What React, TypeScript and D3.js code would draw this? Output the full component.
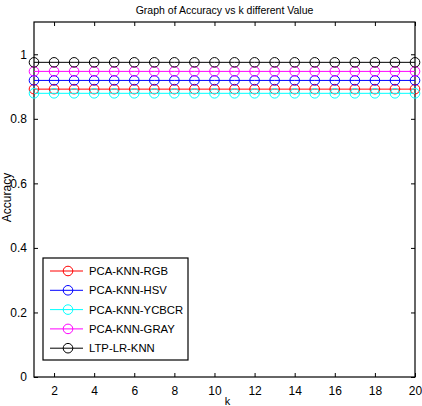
import React, { useEffect, useRef } from 'react';
import * as d3 from 'd3';

const kValues = d3.range(1, 21);
const seriesNames = ['PCA-KNN-RGB', 'PCA-KNN-HSV', 'PCA-KNN-YCBCR', 'PCA-KNN-GRAY', 'LTP-LR-KNN'];
const seriesColors = ['#ff0000', '#0000ff', '#00ffff', '#ff00ff', '#000000'];
const seriesAccuracy = [0.892, 0.919, 0.879, 0.947, 0.975];
const xTicks = [2, 4, 6, 8, 10, 12, 14, 16, 18, 20];
const yTicks = [0, 0.2, 0.4, 0.6, 0.8, 1];

const App = () => {
  const svgRef = useRef<SVGSVGElement>(null);

  useEffect(() => {
    const margin = { top: 22, right: 7, bottom: 29, left: 34 };
    const boxWidth = 422;
    const boxHeight = 406;
    const width = boxWidth - margin.left - margin.right;
    const height = boxHeight - margin.top - margin.bottom;

    const svg = d3.select(svgRef.current);
    svg.selectAll('*').remove();

    const g = svg
      .attr('width', boxWidth)
      .attr('height', boxHeight)
      .append('g')
      .attr('transform', `translate(${margin.left},${margin.top})`);

    const x = d3.scaleLinear().domain([1, 20]).range([0, width]);
    const y = d3.scaleLinear().domain([0, 1.1]).range([height, 0]);

    // frame
    g.append('rect')
      .attr('width', width)
      .attr('height', height)
      .attr('fill', 'white')
      .attr('stroke', 'black')
      .attr('stroke-width', 1.2);

    // bottom axis, ticks inward
    const xa = g.append('g')
      .attr('transform', `translate(0,${height})`)
      .call(d3.axisBottom(x).tickValues(xTicks).tickSize(-4).tickPadding(9).tickSizeOuter(0));
    xa.select('.domain').remove();
    xa.selectAll('text').style('font-size', '12px');

    // top ticks
    const xt = g.append('g')
      .call(d3.axisTop(x).tickValues(xTicks).tickSize(-4).tickFormat(() => '').tickSizeOuter(0));
    xt.select('.domain').remove();

    // left axis
    const ya = g.append('g')
      .call(d3.axisLeft(y).tickValues(yTicks).tickSize(-4).tickPadding(7).tickFormat(d3.format('')).tickSizeOuter(0));
    ya.select('.domain').remove();
    ya.selectAll('text').style('font-size', '12px');

    // right ticks
    const yr = g.append('g')
      .attr('transform', `translate(${width},0)`)
      .call(d3.axisRight(y).tickValues(yTicks).tickSize(-4).tickFormat(() => '').tickSizeOuter(0));
    yr.select('.domain').remove();

    // series
    seriesNames.forEach((name, i) => {
      const data = kValues.map(k => ({ k, v: seriesAccuracy[i] }));
      const line = d3.line<{ k: number; v: number }>()
        .x(d => x(d.k))
        .y(d => y(d.v));
      g.append('path')
        .datum(data)
        .attr('d', line)
        .attr('fill', 'none')
        .attr('stroke', seriesColors[i])
        .attr('stroke-width', 1);
      g.selectAll(`.m${i}`)
        .data(data)
        .enter()
        .append('circle')
        .attr('cx', d => x(d.k))
        .attr('cy', d => y(d.v))
        .attr('r', 4.8)
        .attr('fill', 'none')
        .attr('stroke', seriesColors[i])
        .attr('stroke-width', 1);
    });

    // legend
    const lg = svg.append('g').attr('transform', 'translate(43,258)');
    lg.append('rect')
      .attr('width', 145)
      .attr('height', 102)
      .attr('fill', 'white')
      .attr('stroke', 'black')
      .attr('stroke-width', 1.2);
    seriesNames.forEach((name, i) => {
      const ry = 13 + i * 19.3;
      lg.append('line')
        .attr('x1', 7).attr('x2', 40)
        .attr('y1', ry).attr('y2', ry)
        .attr('stroke', seriesColors[i]);
      lg.append('circle')
        .attr('cx', 25).attr('cy', ry).attr('r', 4.8)
        .attr('fill', 'none')
        .attr('stroke', seriesColors[i]);
      lg.append('text')
        .attr('x', 46).attr('y', ry)
        .attr('dy', '0.35em')
        .style('font-size', '11.3px')
        .text(name);
    });

    // title
    svg.append('text')
      .attr('x', margin.left + width / 2)
      .attr('y', 14)
      .style('text-anchor', 'middle')
      .style('font-size', '10.5px')
      .text('Graph of Accuracy vs  k different Value');

    // axis labels
    svg.append('text')
      .attr('x', margin.left + width / 2 + 3)
      .attr('y', 405)
      .style('text-anchor', 'middle')
      .style('font-size', '11px')
      .text('k');

    svg.append('text')
      .attr('transform', `translate(11,${margin.top + height / 2 - 2}) rotate(-90)`)
      .style('text-anchor', 'middle')
      .style('font-size', '12px')
      .text('Accuracy');
  }, []);

  return (
    <svg
      ref={svgRef}
      style={{ position: 'absolute', left: 0, top: 0, display: 'block', backgroundColor: 'white', fontFamily: '"Liberation Sans", Arial, sans-serif' }}
    ></svg>
  );
};

export default App;
